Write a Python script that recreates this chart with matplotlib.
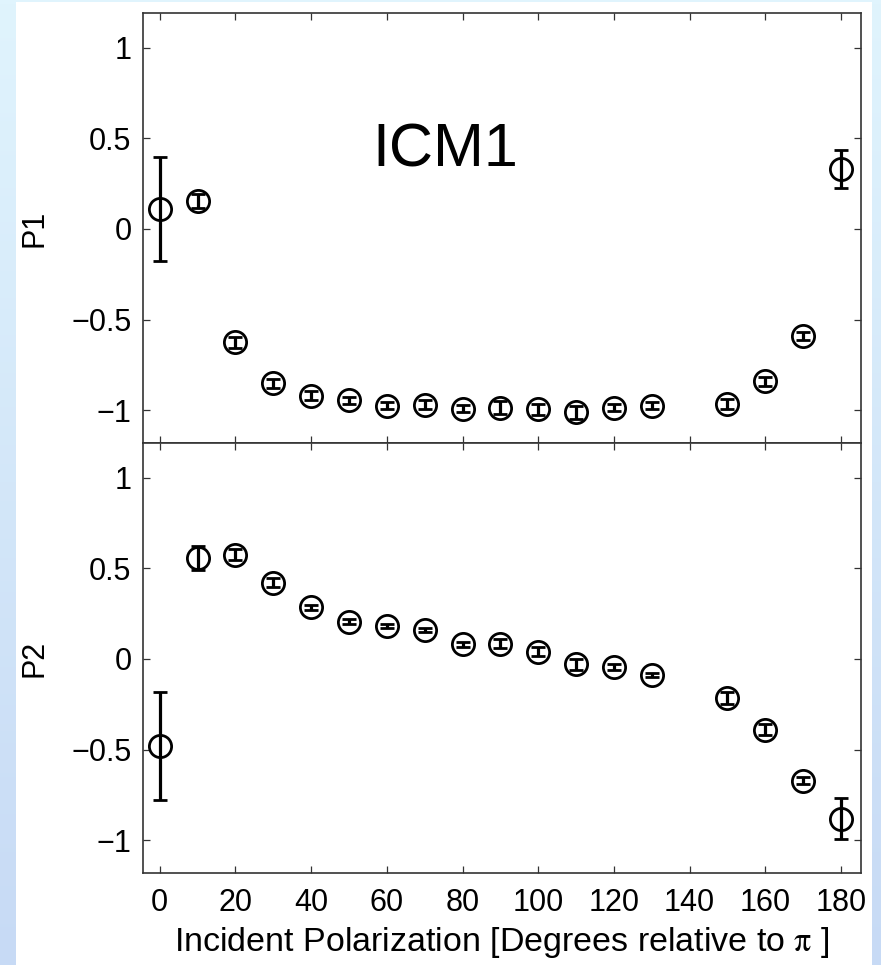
import numpy as np
import matplotlib
matplotlib.use('Agg')
import matplotlib.pyplot as plt
from matplotlib.patches import Rectangle

# data
angle = [0, 10, 20, 30, 40, 50, 60, 70, 80, 90, 100, 110, 120, 130, 150, 160, 170, 180]
p1 = [0.11, 0.155, -0.625, -0.85, -0.92, -0.945, -0.975, -0.97, -0.99, -0.985,
      -0.995, -1.01, -0.985, -0.975, -0.965, -0.84, -0.59, 0.33]
p1_err = [0.285, 0.04, 0.03, 0.025, 0.025, 0.02, 0.02, 0.025, 0.02, 0.035,
          0.03, 0.035, 0.02, 0.02, 0.03, 0.025, 0.02, 0.107]
p2 = [-0.48, 0.555, 0.575, 0.42, 0.285, 0.205, 0.18, 0.16, 0.08, 0.085,
      0.04, -0.03, -0.045, -0.09, -0.215, -0.39, -0.67, -0.88]
p2_err = [0.297, 0.065, 0.03, 0.025, 0.015, 0.015, 0.01, 0.01, 0.015, 0.025,
          0.025, 0.03, 0.015, 0.01, 0.035, 0.03, 0.02, 0.115]
xticks = [0, 20, 40, 60, 80, 100, 120, 140, 160, 180]
yticks = [-1, -0.5, 0, 0.5, 1]
yticklabels = ['\u22121', '\u22120.5', '0', '0.5', '1']

plt.rcParams['font.family'] = ['Liberation Sans', 'DejaVu Sans']
plt.rcParams['mathtext.fontset'] = 'stix'

fig = plt.figure(figsize=(8.81, 9.65), dpi=100)

# slide background: light blue gradient with a white card
bg = fig.add_axes([0, 0, 1, 1], zorder=-10)
grad = np.linspace(0, 1, 256).reshape(-1, 1)
cmap = matplotlib.colors.LinearSegmentedColormap.from_list('bg', ['#e0f4fd', '#c7daf5'])
bg.imshow(grad, aspect='auto', cmap=cmap, extent=[0, 1, 0, 1])
bg.add_patch(Rectangle((16 / 881, 0), (872 - 16) / 881, 1 - 2 / 965,
                       facecolor='white', edgecolor='none'))
bg.set_xlim(0, 1)
bg.set_ylim(0, 1)
bg.axis('off')

left, width = 0.162, 0.8153
ax1 = fig.add_axes([left, 0.5409, width, 0.4456])
ax2 = fig.add_axes([left, 0.0953, width, 0.4456])

style = dict(fmt='o', mfc='none', mec='black', mew=2.0, ms=16, color='black',
             ecolor='black', elinewidth=2.3, capsize=5, capthick=2.3)
ax1.errorbar(angle, p1, yerr=p1_err, **style)
ax2.errorbar(angle, p2, yerr=p2_err, **style)

for ax, lab in [(ax1, 'P1'), (ax2, 'P2')]:
    ax.set_xlim(-4.5, 185.3)
    ax.set_ylim(-1.18, 1.19)
    ax.set_xticks(xticks)
    ax.set_yticks(yticks)
    ax.set_yticklabels(yticklabels)
    ax.tick_params(direction='in', top=True, right=True, length=5, width=0.9,
                   labelsize=22, pad=8, color='#333333')
    for s in ax.spines.values():
        s.set_linewidth(1.2)
        s.set_color('#333333')
    ax.set_ylabel(lab, fontsize=22)
    ax.yaxis.set_label_coords(-0.13, 0.5)

ax1.tick_params(labelbottom=False)
ax2.set_xticklabels([str(t) for t in xticks])
ax2.tick_params(axis='x', pad=11)
ax2.set_xlabel(r'Incident Polarization [Degrees relative to $\mathrm{\pi}$ ]', fontsize=24.5)
ax2.xaxis.set_label_coords(0.5, -0.12)

ax1.text(75.5, 0.43, 'ICM1', fontsize=44, ha='center', va='center')

fig.savefig('out.png', dpi=100, facecolor=fig.get_facecolor())
